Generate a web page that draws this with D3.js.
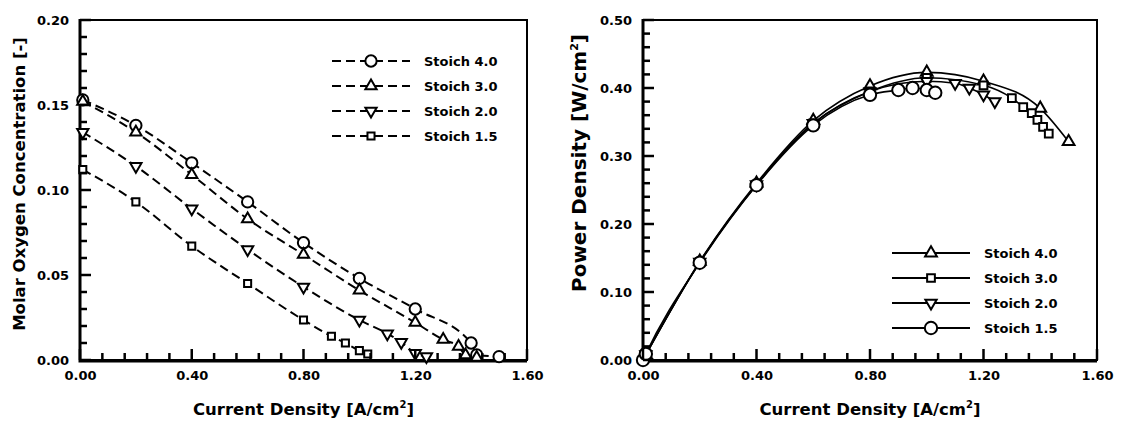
<!DOCTYPE html>
<html>
<head>
<meta charset="utf-8">
<script src="https://cdn.jsdelivr.net/npm/d3@7"></script>
<style>
  body { margin: 0; background: #fff; }
  svg { display: block; }
  text { font-family: "DejaVu Sans", sans-serif; font-weight: bold; fill: #000; }
</style>
</head>
<body>
<svg id="chart" width="1125" height="422"></svg>
<script>
// ---- data ----
const seriesNames = ["Stoich 4.0", "Stoich 3.0", "Stoich 2.0", "Stoich 1.5"]

// left panel: molar oxygen concentration vs current density
const o2X_40 = [0.01, 0.2, 0.4, 0.6, 0.8, 1.0, 1.2, 1.4, 1.42, 1.5]
const o2Y_40 = [0.153, 0.138, 0.116, 0.093, 0.069, 0.048, 0.030, 0.010, 0.003, 0.002]
const o2X_30 = [0.01, 0.2, 0.4, 0.6, 0.8, 1.0, 1.2, 1.3, 1.355, 1.38, 1.42]
const o2Y_30 = [0.152, 0.134, 0.109, 0.083, 0.062, 0.041, 0.022, 0.012, 0.008, 0.003, 0.0015]
const o2X_20 = [0.01, 0.2, 0.4, 0.6, 0.8, 1.0, 1.1, 1.15, 1.2, 1.24]
const o2Y_20 = [0.134, 0.114, 0.089, 0.065, 0.043, 0.0235, 0.0155, 0.0105, 0.004, 0.002]
const o2X_15 = [0.01, 0.2, 0.4, 0.6, 0.8, 0.9, 0.95, 1.0, 1.03]
const o2Y_15 = [0.112, 0.093, 0.067, 0.045, 0.0235, 0.014, 0.010, 0.0055, 0.0035]

// right panel: power density vs current density
const pwX_40 = [0.01, 0.2, 0.4, 0.6, 0.8, 1.0, 1.2, 1.4, 1.5]
const pwY_40 = [0.008, 0.145, 0.26, 0.352, 0.403, 0.423, 0.41, 0.37, 0.321]
const pwX_30 = [0.0, 0.2, 0.4, 0.6, 0.8, 1.0, 1.2, 1.3, 1.34, 1.37, 1.39, 1.41, 1.43]
const pwY_30 = [0.0, 0.144, 0.258, 0.348, 0.395, 0.415, 0.404, 0.385, 0.372, 0.363, 0.353, 0.343, 0.333]
const pwX_20 = [0.01, 0.2, 0.4, 0.6, 0.8, 1.0, 1.1, 1.15, 1.2, 1.24]
const pwY_20 = [0.008, 0.144, 0.258, 0.348, 0.395, 0.41, 0.407, 0.40, 0.39, 0.38]
const pwX_15 = [0.0, 0.01, 0.2, 0.4, 0.6, 0.8, 0.9, 0.95, 1.0, 1.03]
const pwY_15 = [0.0, 0.009, 0.143, 0.257, 0.345, 0.39, 0.397, 0.40, 0.397, 0.393]

// axes
const xTicks = [0, 0.4, 0.8, 1.2, 1.6]
const xTickLabels = ["0.00", "0.40", "0.80", "1.20", "1.60"]
const o2Ticks = [0, 0.05, 0.10, 0.15, 0.20]
const o2TickLabels = ["0.00", "0.05", "0.10", "0.15", "0.20"]
const pwTicks = [0, 0.1, 0.2, 0.3, 0.4, 0.5]
const pwTickLabels = ["0.00", "0.10", "0.20", "0.30", "0.40", "0.50"]

const svg = d3.select("#chart")
const tickSegs = []   // [x1, y1, x2, y2], drawn last on top

const zip = (xs, ys) => xs.map((v, i) => [v, ys[i]])

function symbolPath(kind, size) {
  const t = { circle: d3.symbolCircle, up: d3.symbolTriangle, down: d3.symbolTriangle, square: d3.symbolSquare }[kind]
  return d3.symbol().type(t).size(size)()
}

/*
 one panel
*/
function drawPanel(p) {
  const x = d3.scaleLinear().domain([0, 1.6]).range([p.left, p.right])
  const y = d3.scaleLinear().domain([0, p.yMax]).range([360, 20])
  const g = svg.append("g")

  // frame
  g.append("rect").attr("x", p.left).attr("y", 20)
    .attr("width", p.right - p.left).attr("height", 340)
    .attr("fill", "none").attr("stroke", "#000").attr("stroke-width", 2)
  g.append("path").attr("d", `M${p.left},19V361H${p.right}`)
    .attr("fill", "none").attr("stroke", "#000").attr("stroke-width", 3)

  // tick labels
  g.append("g").attr("transform", "translate(0,360)")
    .call(d3.axisBottom(x).tickValues(xTicks).tickSize(0).tickPadding(11)
      .tickFormat((d, i) => xTickLabels[i]))
  g.append("g").attr("transform", `translate(${p.left},0)`)
    .call(d3.axisLeft(y).tickValues(p.yTicks).tickSize(0).tickPadding(11)
      .tickFormat((d, i) => p.yTickLabels[i]))
  g.selectAll(".domain").remove()
  g.selectAll(".tick text").style("font-size", "13px").attr("fill", "#000")

  // inside tick marks (minor + major)
  const minorX = d3.range(0, 1.6001, 0.08)
  const minorY = d3.range(0, p.yMax + 1e-9, p.yMinor)
  const isMajor = (v, arr) => arr.some(t => Math.abs(t - v) < 1e-6)
  minorX.forEach(d => tickSegs.push([x(d), 360, x(d), 360 - (isMajor(d, xTicks) ? 11 : 7)]))
  minorY.forEach(d => tickSegs.push([p.left, y(d), p.left + (isMajor(d, p.yTicks) ? 11 : 7), y(d)]))

  const line = d3.line().x(d => x(d[0])).y(d => y(d[1])).curve(d3.curveMonotoneX)

  // lines first
  p.series.forEach(s => {
    g.append("path").attr("d", line(s.pts))
      .attr("fill", "none").attr("stroke", "#000")
      .attr("stroke-width", p.lineWidth)
      .attr("stroke-dasharray", p.dash)
  })
  // then markers
  p.series.forEach(s => {
    g.selectAll(null).data(s.pts).enter().append("path")
      .attr("d", symbolPath(s.kind, s.size))
      .attr("transform", d => `translate(${x(d[0])},${y(d[1])})` + (s.kind === "down" ? " rotate(180)" : ""))
      .attr("fill", "#fff").attr("stroke", "#000").attr("stroke-width", 2)
  })

  // legend
  p.series.forEach((s, i) => {
    const ly = p.legY + i * 25
    g.append("line").attr("x1", p.legX).attr("x2", p.legX + 78).attr("y1", ly).attr("y2", ly)
      .attr("stroke", "#000").attr("stroke-width", 2).attr("stroke-dasharray", p.dash)
    g.append("path").attr("d", symbolPath(s.kind, s.size))
      .attr("transform", `translate(${p.legX + 39},${ly})` + (s.kind === "down" ? " rotate(180)" : ""))
      .attr("fill", "#fff").attr("stroke", "#000").attr("stroke-width", 2)
    g.append("text").attr("x", p.legX + 92).attr("y", ly).attr("dy", "0.36em")
      .style("font-size", "13px").text(seriesNames[i])
  })

  // x title
  const xt = g.append("text").attr("x", (p.left + p.right) / 2).attr("y", 415)
    .attr("text-anchor", "middle").style("font-size", "16.5px")
  xt.append("tspan").text("Current Density [A/cm")
  xt.append("tspan").attr("dy", -7).style("font-size", "10px").text("2")
  xt.append("tspan").attr("dy", 7).text("]")

  // y title
  const yt = g.append("text")
    .attr("transform", `translate(${p.yTitleX},${p.yTitleY}) rotate(-90)`)
    .attr("text-anchor", "middle").style("font-size", p.yTitleSize)
  p.yTitle.forEach(part => {
    const ts = yt.append("tspan").text(part.t)
    if (part.sup) ts.attr("dy", -8).style("font-size", "11px")
    if (part.after) ts.attr("dy", 8)
  })
}

drawPanel({
  left: 80, right: 527, yMax: 0.2, yMinor: 0.01,
  yTicks: o2Ticks, yTickLabels: o2TickLabels,
  lineWidth: 2, dash: "9,5",
  legX: 332, legY: 61,
  yTitleX: 25, yTitleY: 184, yTitleSize: "16.5px",
  yTitle: [{ t: "Molar Oxygen Concentration [-]" }],
  series: [
    { kind: "circle", size: 100, pts: zip(o2X_40, o2Y_40) },
    { kind: "up", size: 55, pts: zip(o2X_30, o2Y_30) },
    { kind: "down", size: 55, pts: zip(o2X_20, o2Y_20) },
    { kind: "square", size: 50, pts: zip(o2X_15, o2Y_15) }
  ]
})

drawPanel({
  left: 643, right: 1097, yMax: 0.5, yMinor: 0.02,
  yTicks: pwTicks, yTickLabels: pwTickLabels,
  lineWidth: 1.6, dash: null,
  legX: 892, legY: 253,
  yTitleX: 586, yTitleY: 163, yTitleSize: "20px",
  yTitle: [{ t: "Power Density [W/cm" }, { t: "2", sup: true }, { t: "]", after: true }],
  series: [
    { kind: "up", size: 60, pts: zip(pwX_40, pwY_40) },
    { kind: "square", size: 60, pts: zip(pwX_30, pwY_30) },
    { kind: "down", size: 55, pts: zip(pwX_20, pwY_20) },
    { kind: "circle", size: 120, pts: zip(pwX_15, pwY_15) }
  ]
})

// tick marks on top of everything
svg.append("g").selectAll("line").data(tickSegs).enter().append("line")
  .attr("x1", d => d[0]).attr("y1", d => d[1])
  .attr("x2", d => d[2]).attr("y2", d => d[3])
  .attr("stroke", "#000").attr("stroke-width", 2.5)
</script>
</body>
</html>
